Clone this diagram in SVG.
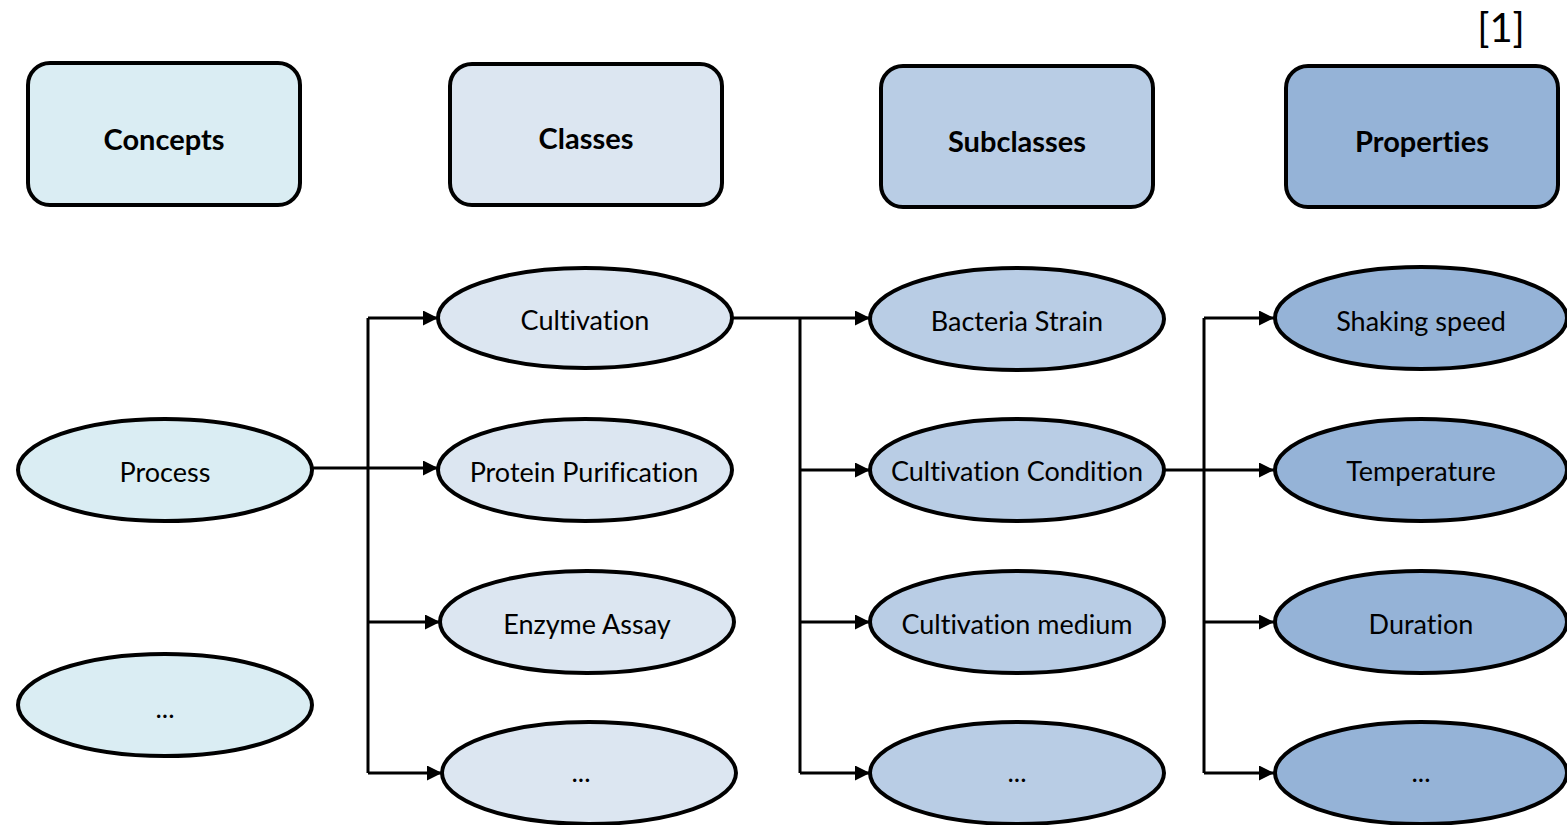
<svg xmlns="http://www.w3.org/2000/svg" width="1567" height="825" viewBox="0 0 1567 825">
  <style>
    text { font-variant-ligatures: none; font-feature-settings: "liga" 0; }
    .hdr rect { stroke: #000; stroke-width: 4; }
    .hdr text { font-family: Lato, "Open Sans", sans-serif; font-weight: bold; font-size: 29px; text-anchor: middle; dominant-baseline: central; fill: #000; }
    .node ellipse { stroke: #000; stroke-width: 4; }
    .node text { font-family: Lato, "Open Sans", sans-serif; font-size: 27px; text-anchor: middle; dominant-baseline: central; fill: #000; }
    .c1 { fill: #DAEDF3; }
    .c2 { fill: #DCE6F1; }
    .c3 { fill: #B9CDE5; }
    .c4 { fill: #95B3D7; }
    #connectors path { fill: none; stroke: #000; stroke-width: 3; }
    #connectors .arr { marker-end: url(#arrow); }
  </style>
  <defs>
    <marker id="arrow" viewBox="0 0 10 10" refX="10" refY="5" markerWidth="5.5" markerHeight="5" markerUnits="strokeWidth" orient="auto">
      <path d="M0,0 L10,5 L0,10 Z" fill="#000"/>
    </marker>
  </defs>
  <rect width="1567" height="825" fill="#fff"/>

  <text x="1501" y="27" font-family="Lato, 'Open Sans', sans-serif" font-size="40" text-anchor="middle" dominant-baseline="central">[1]</text>

  <!-- column headers -->
  <g id="hdr-concepts" class="hdr"><rect class="c1" x="28" y="63" width="272" height="142" rx="22"/><text x="164" y="138">Concepts</text></g>
  <g id="hdr-classes" class="hdr"><rect class="c2" x="450" y="64" width="272" height="141" rx="22"/><text x="586" y="137">Classes</text></g>
  <g id="hdr-subclasses" class="hdr"><rect class="c3" x="881" y="66" width="272" height="141" rx="22"/><text x="1017" y="140">Subclasses</text></g>
  <g id="hdr-properties" class="hdr"><rect class="c4" x="1286" y="66" width="272" height="141" rx="22"/><text x="1422" y="140">Properties</text></g>

  <!-- connectors -->
  <g id="connectors">
    <path d="M312,468 H368"/>
    <path d="M368,318 V773"/>
    <path class="arr" d="M368,318 H438"/>
    <path class="arr" d="M368,468 H438"/>
    <path class="arr" d="M368,622 H440"/>
    <path class="arr" d="M368,773 H442"/>

    <path d="M732,318 H800"/>
    <path d="M800,318 V773"/>
    <path class="arr" d="M800,318 H870"/>
    <path class="arr" d="M800,470 H870"/>
    <path class="arr" d="M800,622 H870"/>
    <path class="arr" d="M800,773 H870"/>

    <path d="M1165,470 H1204"/>
    <path d="M1204,318 V773"/>
    <path class="arr" d="M1204,318 H1274"/>
    <path class="arr" d="M1204,470 H1274"/>
    <path class="arr" d="M1204,622 H1274"/>
    <path class="arr" d="M1204,773 H1274"/>
  </g>

  <!-- concepts -->
  <g id="n-process" class="node"><ellipse class="c1" cx="165" cy="470" rx="147" ry="51"/><text x="165" y="471">Process</text></g>
  <g id="n-concept-more" class="node"><ellipse class="c1" cx="165" cy="705" rx="147" ry="51"/><text x="165" y="707">...</text></g>

  <!-- classes -->
  <g id="n-cultivation" class="node"><ellipse class="c2" cx="585" cy="318" rx="147" ry="50"/><text x="585" y="319">Cultivation</text></g>
  <g id="n-protein" class="node"><ellipse class="c2" cx="585" cy="470" rx="147" ry="51"/><text x="584" y="471">Protein Purification</text></g>
  <g id="n-enzyme" class="node"><ellipse class="c2" cx="587" cy="622" rx="147" ry="51"/><text x="587" y="623">Enzyme Assay</text></g>
  <g id="n-class-more" class="node"><ellipse class="c2" cx="589" cy="773" rx="147" ry="51"/><text x="581" y="771">...</text></g>

  <!-- subclasses -->
  <g id="n-strain" class="node"><ellipse class="c3" cx="1017" cy="319" rx="147" ry="51"/><text x="1017" y="320">Bacteria Strain</text></g>
  <g id="n-condition" class="node"><ellipse class="c3" cx="1017" cy="470" rx="147" ry="51"/><text x="1017" y="470">Cultivation Condition</text></g>
  <g id="n-medium" class="node"><ellipse class="c3" cx="1017" cy="622" rx="147" ry="51"/><text x="1017" y="623">Cultivation medium</text></g>
  <g id="n-sub-more" class="node"><ellipse class="c3" cx="1017" cy="773" rx="147" ry="51"/><text x="1017" y="771">...</text></g>

  <!-- properties -->
  <g id="n-shaking" class="node"><ellipse class="c4" cx="1421" cy="318" rx="146" ry="51"/><text x="1421" y="320">Shaking speed</text></g>
  <g id="n-temperature" class="node"><ellipse class="c4" cx="1421" cy="470" rx="146" ry="51"/><text x="1421" y="470">Temperature</text></g>
  <g id="n-duration" class="node"><ellipse class="c4" cx="1421" cy="622" rx="146" ry="51"/><text x="1421" y="623">Duration</text></g>
  <g id="n-prop-more" class="node"><ellipse class="c4" cx="1421" cy="773" rx="146" ry="51"/><text x="1421" y="771">...</text></g>
</svg>
